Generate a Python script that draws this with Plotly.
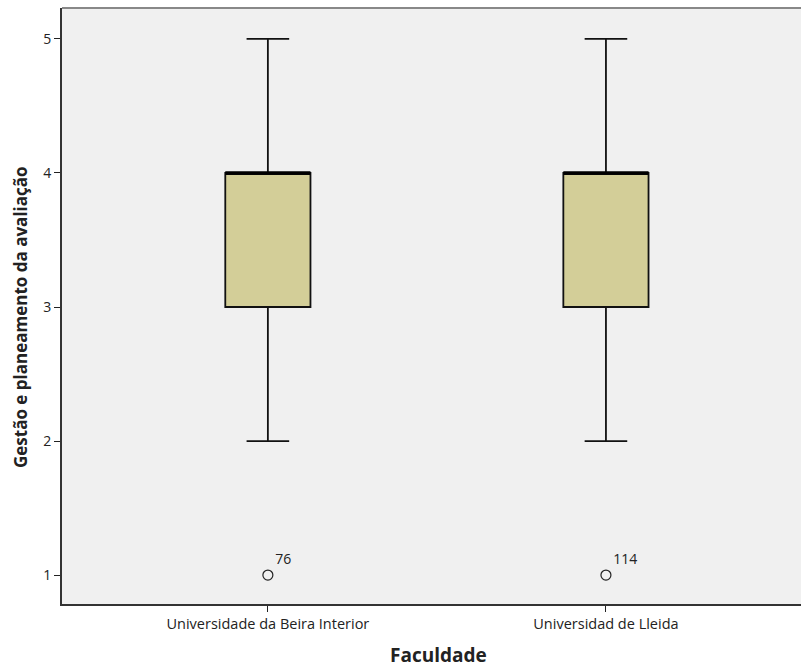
import plotly.graph_objects as go

# Summary statistics per faculty
faculdades = ["Universidade da Beira Interior", "Universidad de Lleida"]
minimo = [2, 2]
q1 = [3, 3]
mediana = [4, 4]
q3 = [4, 4]
maximo = [5, 5]
outlier_valor = [1, 1]
outlier_caso = ["76", "114"]

pos = list(range(len(faculdades)))

fig = go.Figure()

fig.add_trace(go.Box(
    x=pos,
    q1=q1, median=mediana, q3=q3,
    lowerfence=minimo, upperfence=maximo,
    width=0.252,
    whiskerwidth=0.5,
    fillcolor="#D3CE98",
    line=dict(color="#111", width=1.8),
    boxpoints=False,
    hoverinfo="skip",
    showlegend=False,
))

# Heavier median bars
for i, m in zip(pos, mediana):
    fig.add_trace(go.Scatter(
        x=[i - 0.126, i + 0.126], y=[m, m],
        mode="lines", line=dict(color="black", width=3.5),
        hoverinfo="skip", showlegend=False,
    ))

# Outliers with case labels
fig.add_trace(go.Scatter(
    x=pos, y=outlier_valor,
    mode="markers+text",
    marker=dict(symbol="circle-open", size=10, color="#222", line=dict(width=1.2)),
    text=outlier_caso,
    textposition="top right",
    textfont=dict(family="Open Sans", size=14, color="#222"),
    hoverinfo="skip", showlegend=False,
))

fig.update_layout(
    width=801, height=669,
    margin=dict(l=62, r=0, t=8, b=65),
    paper_bgcolor="white",
    plot_bgcolor="#F0F0F0",
    font=dict(family="Open Sans", color="#222"),
    xaxis=dict(
        range=[-0.609, 1.577],
        tickmode="array", tickvals=pos, ticktext=faculdades,
        ticks="outside", ticklen=6, tickcolor="#222",
        tickfont=dict(size=14.5),
        showgrid=False, zeroline=False,
        showline=True, linecolor="#333", linewidth=2,
    ),
    yaxis=dict(
        range=[0.784, 5.231],
        tickvals=[1, 2, 3, 4, 5],
        ticks="outside", ticklen=6, tickcolor="#222",
        tickfont=dict(size=14),
        showgrid=False, zeroline=False,
        showline=True, linecolor="#333", linewidth=2,
    ),
    annotations=[
        dict(text="<b>Faculdade</b>", xref="paper", yref="paper",
             x=0.5088, y=-0.0856, xanchor="center", yanchor="middle",
             showarrow=False, font=dict(size=19, color="#222")),
        dict(text="<b>Gestão e planeamento da avaliação</b>", xref="paper", yref="paper",
             x=-0.0568, y=0.4815, xanchor="center", yanchor="middle", textangle=-90,
             showarrow=False, font=dict(size=17, color="#222")),
    ],
    shapes=[dict(type="line", xref="paper", yref="paper", x0=0, x1=1, y0=1, y1=1,
                 line=dict(color="#888", width=2))],
)

fig.write_html("out.html")
